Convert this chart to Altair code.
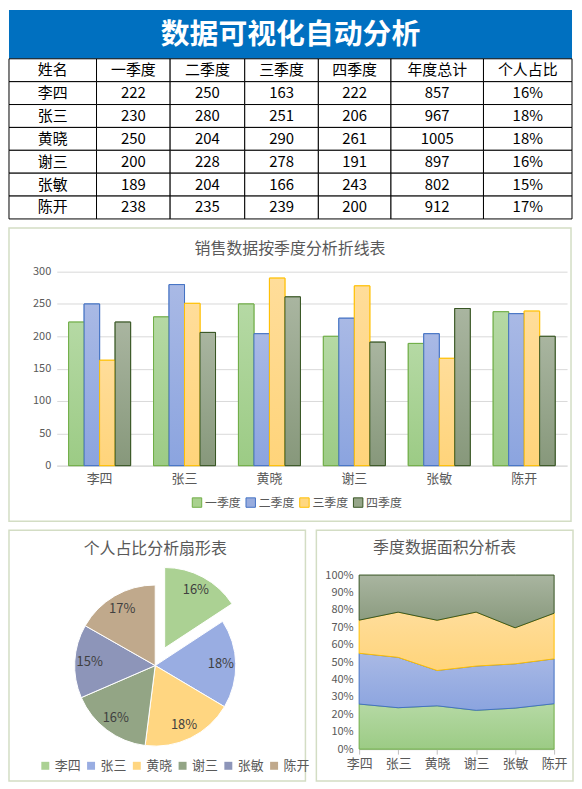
import math

import altair as alt
import pandas as pd

FONT = "Noto Sans CJK SC"

# ---- data (from the table) ----
NAMES = ["李四", "张三", "黄晓", "谢三", "张敏", "陈开"]
QUARTERS = ["一季度", "二季度", "三季度", "四季度"]
Q1 = [222, 230, 250, 200, 189, 238]
Q2 = [250, 280, 204, 228, 204, 235]
Q3 = [163, 251, 290, 278, 166, 239]
Q4 = [222, 206, 261, 191, 243, 200]
TOTALS = [857, 967, 1005, 897, 802, 912]
SHARES = ["16%", "18%", "18%", "16%", "15%", "17%"]
HEADERS = ["姓名", "一季度", "二季度", "三季度", "四季度", "年度总计", "个人占比"]

# ---- styles ----
Q_FILL = ["#a9d18e", "#98acde", "#ffd781", "#96a689"]
Q_TOP = ["#b5d9a4", "#a9b9e5", "#ffdd9a", "#a9b5a0"]
Q_BOTTOM = ["#9ccb85", "#8ba4df", "#ffd47a", "#87987b"]
Q_STROKE = ["#70ad47", "#4472c4", "#ffc000", "#375623"]
PIE_COLORS = ["#abd193", "#99ade2", "#ffd681", "#93a585", "#8d95b9", "#c0a98c"]
FRAME = "#d3ddc4"
GRAY = "#595959"

# every panel in the column shares one origin, so all of them start this far left of it
LEFT = 48
TOP_PAD = 45

dummy = pd.DataFrame({"k": [0]})


def grad(i):
    return alt.Gradient(
        gradient="linear", x1=0, x2=0, y1=0, y2=1,
        stops=[alt.GradientStop(offset=0, color=Q_TOP[i]),
               alt.GradientStop(offset=1, color=Q_BOTTOM[i])],
    )


def frame(x0, x1, y0, y1):
    return alt.Chart(dummy).mark_rect(fill="white", fillOpacity=0, stroke=FRAME, strokeWidth=1.5).encode(
        x=alt.value(x0), x2=alt.value(x1), y=alt.value(y0), y2=alt.value(y1)
    )


def panel_title(text, x, y):
    return alt.Chart(dummy).mark_text(
        text=text, fontSize=16, color=GRAY, font=FONT, baseline="middle"
    ).encode(x=alt.value(x), y=alt.value(y))


# ---- banner + table ----
TW = 566
BANNER_H = 49
ROW_H = 23
COL_W = [88, 74, 75, 74, 73, 93, 89]
TH = BANNER_H + ROW_H * 7

edges = [0]
for w in COL_W:
    edges.append(edges[-1] + w)

rows = [HEADERS] + [
    [NAMES[i], str(Q1[i]), str(Q2[i]), str(Q3[i]), str(Q4[i]), str(TOTALS[i]), SHARES[i]]
    for i in range(len(NAMES))
]
cells = []
for r, row in enumerate(rows):
    for c, txt in enumerate(row):
        y0 = BANNER_H + r * ROW_H
        cells.append({"txt": txt, "x0": edges[c], "x1": edges[c + 1],
                      "y0": y0, "y1": y0 + ROW_H,
                      "xm": (edges[c] + edges[c + 1]) / 2, "ym": y0 + ROW_H / 2})
cells = pd.DataFrame(cells)

sx = alt.Scale(domain=[0, TW], range=[-LEFT, TW - LEFT], nice=False, zero=False)
sy = alt.Scale(domain=[0, TH], reverse=True, nice=False, zero=False)

banner = alt.Chart(dummy).mark_rect(color="#0070c0").encode(
    x=alt.value(-LEFT), x2=alt.value(TW - LEFT), y=alt.value(0), y2=alt.value(BANNER_H)
)
banner_text = alt.Chart(dummy).mark_text(
    text="数据可视化自动分析", color="white", fontSize=29, fontWeight="bold",
    font=FONT, baseline="middle"
).encode(x=alt.value(TW / 2 - LEFT), y=alt.value(BANNER_H / 2 + 1))

table_rect = alt.Chart(cells).mark_rect(fill="white", stroke="black", strokeWidth=1).encode(
    x=alt.X("x0:Q", scale=sx, axis=None), x2="x1",
    y=alt.Y("y0:Q", scale=sy, axis=None), y2="y1",
)
table_text = alt.Chart(cells).mark_text(fontSize=15, color="black", font=FONT, baseline="middle").encode(
    x=alt.X("xm:Q", scale=sx, axis=None),
    y=alt.Y("ym:Q", scale=sy, axis=None),
    text="txt:N",
)
top = alt.layer(banner, table_rect, table_text, banner_text).properties(width=TW - LEFT, height=TH)

# ---- long table for the quarter charts ----
long_rows = []
for qi, (q, vals) in enumerate(zip(QUARTERS, [Q1, Q2, Q3, Q4])):
    for ni, n in enumerate(NAMES):
        long_rows.append({"姓名": n, "季度": q, "qi": qi, "销量": vals[ni]})
long_df = pd.DataFrame(long_rows)

# ---- grouped bar chart ----
BW, BH = 513, 195

bar_base = alt.Chart(long_df).encode(
    x=alt.X("姓名:N", sort=NAMES,
            scale=alt.Scale(paddingInner=0.27, paddingOuter=0.14),
            axis=alt.Axis(title=None, labelAngle=0, ticks=False, domainColor="#d9d9d9",
                          labelColor=GRAY, labelFontSize=13, labelPadding=7)),
    xOffset=alt.XOffset("季度:N", sort=QUARTERS,
                        scale=alt.Scale(domain=QUARTERS, paddingInner=0, paddingOuter=0)),
    y=alt.Y("销量:Q", scale=alt.Scale(domain=[0, 300]),
            axis=alt.Axis(title=None, values=[0, 50, 100, 150, 200, 250, 300], grid=True,
                          gridColor="#d9d9d9", domain=False, ticks=False,
                          labelColor=GRAY, labelFontSize=11, labelPadding=6)),
)
leg = alt.Legend(title=None, orient="none", legendX=135, legendY=BH + 31, direction="horizontal",
                 symbolType="square", symbolSize=90, symbolStrokeWidth=1,
                 labelColor=GRAY, labelFontSize=12, labelOffset=2, columnPadding=2)
bar_legend = bar_base.mark_bar(strokeWidth=1).encode(
    fill=alt.Fill("季度:N", sort=QUARTERS, scale=alt.Scale(domain=QUARTERS, range=Q_FILL), legend=leg),
    stroke=alt.Stroke("季度:N", sort=QUARTERS, scale=alt.Scale(domain=QUARTERS, range=Q_STROKE), legend=leg),
)
bar_layers = [
    bar_base.transform_filter(alt.datum["季度"] == q).mark_bar(
        fill=grad(i), stroke=Q_STROKE[i], strokeWidth=1)
    for i, q in enumerate(QUARTERS)
]
bars = alt.layer(
    frame(-LEFT, BW + 4, -44, BH + 56),
    bar_legend, *bar_layers,
    panel_title("销售数据按季度分析折线表", (BW + 4 - LEFT) / 2, -23),
).properties(width=BW, height=BH)

# ---- pie chart ----
PFW, PFH = 298, 252          # frame size
PW, PH = PFW - LEFT, PFH - TOP_PAD
R = 81
EXPLODE = 20
mid0 = math.pi * TOTALS[0] / sum(TOTALS)
ex_dx = EXPLODE * math.sin(mid0)
ex_dy = -EXPLODE * math.cos(mid0)
PX = (147 - LEFT) - PW / 2
PY = (136 - TOP_PAD) - PH / 2

pie_df = pd.DataFrame({"姓名": NAMES, "年度总计": TOTALS, "占比": SHARES, "idx": range(len(NAMES))})
theta_scale = alt.Scale(domain=[0, 1], range=[0, 2 * math.pi])
pie_base = alt.Chart(pie_df).transform_joinaggregate(
    total="sum(年度总计)"
).transform_window(
    cum="sum(年度总计)", sort=[alt.SortField("idx")]
).transform_calculate(
    t0="(datum.cum - datum['年度总计']) / datum.total",
    t1="datum.cum / datum.total",
    tm="(datum.cum - datum['年度总计'] / 2) / datum.total",
)
pie_leg = alt.Legend(title=None, orient="none", legendX=30 - LEFT, legendY=230 - TOP_PAD,
                     direction="horizontal",
                     symbolType="square", symbolSize=64, symbolStrokeWidth=0,
                     labelColor=GRAY, labelFontSize=13, labelOffset=3, columnPadding=3)
pie_color = alt.Color("姓名:N", sort=NAMES, scale=alt.Scale(domain=NAMES, range=PIE_COLORS), legend=pie_leg)

is_first = alt.datum["姓名"] == NAMES[0]
arcs = pie_base.transform_filter(~is_first).mark_arc(
    outerRadius=R, stroke="white", strokeWidth=1, xOffset=PX, yOffset=PY
).encode(theta=alt.Theta("t0:Q", scale=theta_scale), theta2="t1:Q", color=pie_color)
arc_ex = pie_base.transform_filter(is_first).mark_arc(
    outerRadius=R, stroke="white", strokeWidth=1, xOffset=PX + ex_dx, yOffset=PY + ex_dy
).encode(theta=alt.Theta("t0:Q", scale=theta_scale), theta2="t1:Q", color=pie_color)
labels = pie_base.transform_filter(~is_first).mark_text(
    radius=66, fontSize=13, color="#404040", font=FONT, xOffset=PX, yOffset=PY
).encode(theta=alt.Theta("tm:Q", scale=theta_scale), text="占比:N")
label_ex = pie_base.transform_filter(is_first).mark_text(
    radius=66, fontSize=13, color="#404040", font=FONT, xOffset=PX + ex_dx, yOffset=PY + ex_dy
).encode(theta=alt.Theta("tm:Q", scale=theta_scale), text="占比:N")
pie = alt.layer(
    frame(-LEFT, PW, -TOP_PAD, PH), arcs, arc_ex, labels, label_ex,
    panel_title("个人占比分析扇形表", PFW / 2 - 2 - LEFT, 19 - TOP_PAD),
).properties(width=PW, height=PH)

# ---- 100% stacked area chart ----
AW, AH = 196, 175
area_base = alt.Chart(long_df).transform_stack(
    stack="销量", groupby=["姓名"], as_=["y0", "y1"], offset="normalize",
    sort=[alt.SortField("qi", order="ascending")],
).encode(
    x=alt.X("姓名:N", sort=NAMES, scale=alt.Scale(type="point", padding=0),
            axis=alt.Axis(title=None, labelAngle=0, ticks=True, tickColor="#bfbfbf", tickSize=5,
                          domainColor="#bfbfbf", labelColor=GRAY, labelFontSize=13, labelPadding=3)),
    y=alt.Y("y0:Q", scale=alt.Scale(domain=[0, 1], nice=False),
            axis=alt.Axis(title=None, format=".0%", values=[i / 10 for i in range(11)],
                          grid=False, domain=False, ticks=False,
                          labelColor=GRAY, labelFontSize=11, labelPadding=6)),
    y2="y1:Q",
)
area_layers = [
    area_base.transform_filter(alt.datum["季度"] == q).mark_area(
        fill=grad(i), stroke=Q_STROKE[i], strokeWidth=1)
    for i, q in enumerate(QUARTERS)
]
area = alt.layer(
    frame(-43, AW + 19, -TOP_PAD, PFH - TOP_PAD), *area_layers,
    panel_title("季度数据面积分析表", (AW - 24) / 2, -27),
).properties(width=AW, height=AH)

chart = alt.vconcat(
    top, bars, alt.hconcat(pie, area, spacing=9), spacing=7,
).resolve_scale(
    color="independent", fill="independent", stroke="independent",
    x="independent", y="independent", theta="independent",
).properties(
    padding=0
).configure(
    font=FONT
).configure_view(
    stroke=None
)

chart.save("out.html", embed_options={"renderer": "svg", "actions": False})
